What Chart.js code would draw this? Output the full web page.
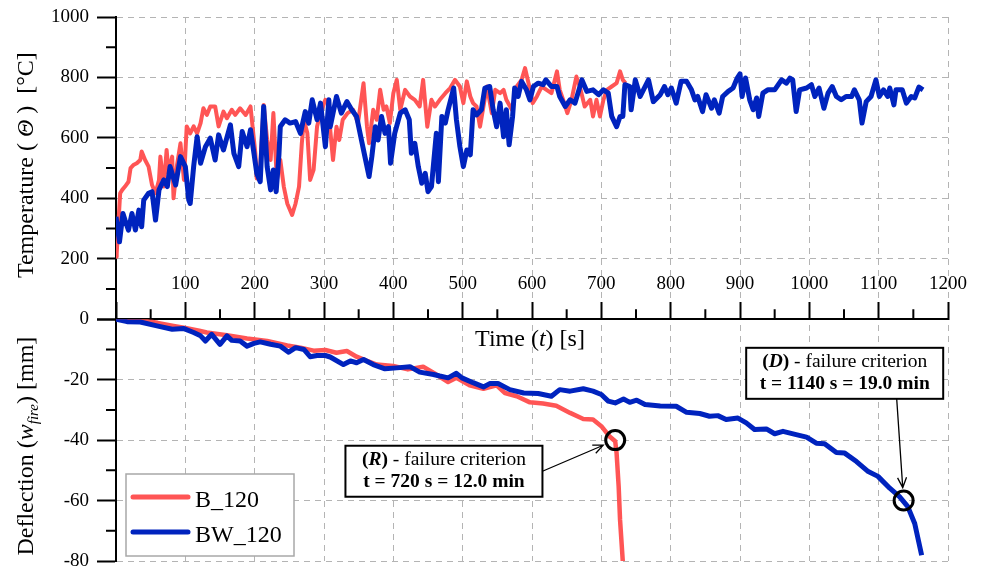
<!DOCTYPE html>
<html>
<head>
<meta charset="utf-8">
<script src="https://cdn.jsdelivr.net/npm/chart.js@4.4.1/dist/chart.umd.min.js"></script>
<style>
  body { margin: 0; background: #fff; }
  canvas { display: block; }
</style>
</head>
<body>
<canvas id="chart" width="983" height="567"></canvas>
<script>
// [time s, temperature °C]
const B120_temp = [[0,207],[1,218],[6,417],[9,428],[13,439],[18,455],[21,500],[25,510],[30,516],[35,527],[37,555],[42,527],[47,505],[52,444],[57,417],[62,461],[64,538],[69,439],[73,560],[76,483],[81,538],[83,400],[88,510],[93,582],[98,461],[102,638],[107,615],[112,638],[117,615],[122,649],[126,698],[131,676],[136,704],[143,704],[148,638],[155,687],[160,665],[167,693],[172,676],[179,698],[187,676],[194,704],[198,615],[201,549],[203,466],[208,505],[213,709],[218,593],[223,527],[227,682],[232,461],[237,527],[242,439],[247,383],[254,345],[259,383],[264,439],[268,582],[271,660],[276,615],[280,461],[285,494],[290,638],[295,682],[302,726],[307,715],
  [309,626],[313,527],[318,637],[322,593],[327,660],[334,682],[342,693],[349,649],[357,781],[362,637],[365,582],[371,693],[376,660],[381,759],[386,693],[390,704],[395,649],[400,748],[405,792],[410,693],[417,759],[424,737],[431,726],[438,704],[443,792],[449,637],[455,726],[460,704],[467,726],[475,748],[482,765],[489,792],[496,770],[501,715],[506,787],[511,737],[515,715],[520,704],[525,637],[530,704],[535,770],[542,682],[547,759],[554,748],[559,759],[563,726],[571,693],[578,770],[585,792],[590,831],[595,781],[601,715],[607,737],[614,770],[621,759],[628,748],[636,820],[640,759],[645,726],[651,682],[657,726],[664,803],[669,770],[676,704],[684,726],[688,671],[693,726],[698,671],[703,726],[708,759],[715,770],[722,781],[727,820],[731,792],[735,781]];

const BW120_temp = [[0,339],[5,256],[10,350],[13,328],[18,295],[23,350],[28,295],[33,361],[37,306],[40,394],[47,417],[52,422],[57,328],[62,428],[69,461],[74,439],[78,505],[86,444],[93,538],[100,505],[105,394],[107,383],[112,505],[117,604],[122,516],[129,571],[136,599],[143,527],[148,610],[155,560],[165,643],[170,549],[177,505],[182,621],[189,571],[194,627],[199,549],[203,483],[208,455],[213,704],[218,505],[223,428],[227,494],[231,422],[235,544],[237,638],[244,660],[251,649],[259,654],[266,615],[273,687],[278,649],[283,726],[290,660],[295,715],[302,571],[307,726],
  [309,637],[318,737],[325,682],[333,720],[340,693],[347,671],[354,593],[359,538],[365,472],[369,538],[374,637],[378,593],[383,671],[388,615],[393,637],[396,516],[402,615],[410,682],[417,693],[423,660],[426,549],[431,582],[436,505],[441,450],[446,483],[450,422],[455,439],[462,615],[465,455],[470,671],[475,649],[479,693],[487,765],[491,660],[496,571],[501,505],[506,560],[511,544],[515,693],[520,676],[527,693],[532,765],[539,770],[544,693],[549,637],[554,715],[559,604],[563,693],[567,577],[572,671],[575,765],[580,737],[585,787],[592,759],[597,726],[602,770],[609,781],[616,776],[620,792],[628,770],[636,770],[640,737],[648,704],[655,726],[662,715],[672,792],[679,754],[688,759],[696,743],[703,759],[710,748],[715,671],[722,637],[727,671],[731,671],[734,776],[741,770],[743,693],[749,792],[756,737],[768,792],[775,720],[785,743],
  [791,770],[796,743],[801,765],[808,715],[815,787],[823,787],[830,759],[835,726],[839,737],[846,687],[851,743],[859,698],[863,726],[870,682],[875,737],[883,754],[890,765],[896,798],[900,812],[903,737],[908,798],[914,726],[919,693],[924,732],[927,671],[933,748],[940,759],[950,759],[960,792],[967,781],[972,798],[976,792],[981,687],[986,759],[996,765],[1003,776],[1008,737],[1014,765],[1021,698],[1027,748],[1033,770],[1039,737],[1046,726],[1053,737],[1061,737],[1065,759],[1072,726],[1076,649],[1082,720],[1089,737],[1096,792],[1101,737],[1107,759],[1113,737],[1116,765],[1122,709],[1125,759],[1134,759],[1140,715],[1147,737],[1152,732],[1158,768],[1164,759]];

// [time s, deflection mm]
const B120_defl = [[0,0],[20,-0.2],[40,-0.5],[60,-1.2],[83,-2.2],[102,-3.0],[120,-3.8],[131,-4.4],[160,-5.3],[189,-6.4],[218,-7.2],[247,-8.7],[266,-9.4],[285,-10.4],[302,-10.2],[318,-11.1],[333,-10.5],[347,-12.4],[362,-13.8],[376,-15.0],[400,-15.5],[421,-16.6],[443,-15.7],[462,-18.3],[479,-20.8],[491,-19.4],[510,-21.9],[530,-23.0],[549,-21.9],[561,-24.4],[578,-25.5],[597,-27.5],[616,-27.9],[635,-28.6],[655,-31.0],[674,-33.0],[688,-33.2],[700,-35.4],[712,-38.8],[720,-40.4],[722,-44.3],[725,-55.4],[727,-66.4],[731,-80.3]];

const BW120_defl = [[0,0],[16,-0.8],[35,-0.9],[59,-2.2],[81,-3.3],[98,-3.1],[112,-4.4],[122,-5.5],[129,-7.2],[138,-5.0],[150,-8.3],[160,-5.5],[167,-7.0],[179,-7.2],[189,-8.9],[199,-8.0],[208,-7.5],[223,-8.3],[237,-8.9],[249,-10.9],[259,-9.4],[271,-10.0],[280,-12.4],[290,-12.0],[302,-12.0],[309,-12.5],[328,-15.0],[338,-13.8],[347,-14.4],[357,-13.3],[371,-15.0],[388,-16.4],[405,-16.1],[424,-15.7],[438,-17.5],[458,-18.3],[467,-18.8],[479,-19.4],[491,-17.9],[499,-19.4],[515,-21.0],[530,-22.4],[539,-21.3],[551,-21.3],[568,-23.3],[588,-24.4],[609,-24.6],[628,-25.5],[640,-23.3],[655,-23.8],[674,-23.0],[688,-23.8],[700,-24.9],[710,-27.1],[720,-27.7],[732,-26.4],[741,-27.5],[751,-26.8],[763,-28.2],[785,-28.7],[808,-28.8],[823,-30.8],[842,-31.2],[856,-32.1],[868,-31.9],[880,-33.2],[897,-32.7],[909,-34.3],[921,-36.5],[938,-36.3],[950,-37.9],[962,-37.1],[981,-38.2],[996,-39.0],[1010,-41.0],[1022,-41.2],[1039,-44.1],[1051,-44.3],[1068,-47.1],[1085,-50.4],[1099,-52.0],[1116,-55.9],[1130,-58.7],[1142,-62.0],[1152,-67.6],[1162,-78.1]];

// failure criteria points and their callouts
const failures = [[720, -40], [1136, -60]];
const failureLetters = ['R', 'D'];
const failureTimes = ['t = 720 s = 12.0 min', 't = 1140 s = 19.0 min'];
const calloutAt = [[473, -50.3], [1051, -17.9]];   // box centre (time, deflection)

const seriesNames = ['B_120', 'BW_120'];
const RED = 'rgb(255,85,85)';
const BLUE = 'rgb(0,35,190)';
const SERIF = '"Liberation Serif", "Times New Roman", serif';
const GRID = '#b4b4b4';

const pts = a => a.map(([x, y]) => ({x, y}));
const font = (size, style) => (style || '') + ' ' + size + 'px ' + SERIF;

function richText(ctx, parts, cx, y) {
  let w = 0;
  parts.forEach(p => { ctx.font = p[1]; p.w = ctx.measureText(p[0]).width; w += p.w; });
  let x = cx - w / 2;
  parts.forEach(p => { ctx.font = p[1]; ctx.fillText(p[0], x, y + (p[2] || 0)); x += p.w; });
}

function arrow(ctx, x1, y1, x2, y2) {
  const ang = Math.atan2(y2 - y1, x2 - x1), h = 11, s = 0.42;
  ctx.beginPath();
  ctx.moveTo(x1, y1); ctx.lineTo(x2, y2);
  ctx.moveTo(x2 - h * Math.cos(ang - s), y2 - h * Math.sin(ang - s));
  ctx.lineTo(x2, y2);
  ctx.lineTo(x2 - h * Math.cos(ang + s), y2 - h * Math.sin(ang + s));
  ctx.stroke();
}

const decor = {
  id: 'decor',
  afterDraw(chart) {
    const {ctx, chartArea: a, scales} = chart;
    const x = scales.x, yT = scales.yT, yD = scales.yD;
    const y0 = yT.getPixelForValue(0);
    ctx.save();

    // minor ticks
    ctx.strokeStyle = '#000'; ctx.lineWidth = 2;
    ctx.beginPath();
    for (let v = 100; v < 1000; v += 200) { const p = yT.getPixelForValue(v); ctx.moveTo(a.left - 10, p); ctx.lineTo(a.left, p); }
    for (let v = -10; v > -80; v -= 20) { const p = yD.getPixelForValue(v); ctx.moveTo(a.left - 10, p); ctx.lineTo(a.left, p); }
    for (let v = 50; v < 1200; v += 100) { const p = x.getPixelForValue(v); ctx.moveTo(p, y0); ctx.lineTo(p, y0 - 10); }
    ctx.stroke();

    // axis titles
    ctx.fillStyle = '#000';
    ctx.textBaseline = 'alphabetic';
    ctx.save();
    ctx.translate(33, (yT.top + yT.bottom) / 2 - 3);
    ctx.rotate(-Math.PI / 2);
    richText(ctx, [['Temperature ( ', font(24)], ['\u0398', font(24, 'italic')], [' )  [\u00B0C]', font(24)]], 0, 0);
    ctx.restore();
    ctx.save();
    ctx.translate(33, (yD.top + yD.bottom) / 2 + 6);
    ctx.rotate(-Math.PI / 2);
    richText(ctx, [['Deflection (', font(24)], ['w', font(24, 'italic')], ['fire', font(15, 'italic'), 5], [') [mm]', font(24)]], 0, 0);
    ctx.restore();
    richText(ctx, [['Time (', font(24)], ['t', font(24, 'italic')], [') [s]', font(24)]], (a.left + a.right) / 2 - 2, y0 + 27);

    // legend
    const lx = a.left + 10, ly = a.bottom - 87;
    ctx.fillStyle = '#fff'; ctx.strokeStyle = '#a8a8a8'; ctx.lineWidth = 1.5;
    ctx.fillRect(lx, ly, 168, 82); ctx.strokeRect(lx, ly, 168, 82);
    [RED, BLUE].forEach((c, i) => {
      const yy = ly + 23 + i * 35;
      ctx.strokeStyle = c; ctx.lineWidth = 5; ctx.lineCap = 'round';
      ctx.beginPath(); ctx.moveTo(lx + 7, yy); ctx.lineTo(lx + 62, yy); ctx.stroke();
      ctx.fillStyle = '#000'; ctx.font = font(24); ctx.textAlign = 'left';
      ctx.fillText(seriesNames[i], lx + 69, yy + 10);
    });
    ctx.lineCap = 'butt';

    // failure callouts
    failures.forEach((f, i) => {
      const cx = x.getPixelForValue(calloutAt[i][0]), cy = yD.getPixelForValue(calloutAt[i][1]);
      const w = 197, h = 51, bx = cx - w / 2, by = cy - h / 2;
      const px = x.getPixelForValue(f[0]), py = yD.getPixelForValue(f[1]);
      let sx, sy;
      if (i === 0) { sx = bx + w; sy = cy; } else { sx = cx + 52; sy = by + h; }
      const d = Math.hypot(px - sx, py - sy), g = 13;
      ctx.strokeStyle = '#000'; ctx.lineWidth = 1.3;
      arrow(ctx, sx, sy, px - (px - sx) * g / d, py - (py - sy) * g / d);
      ctx.fillStyle = '#fff'; ctx.fillRect(bx, by, w, h);
      ctx.lineWidth = 2; ctx.strokeRect(bx, by, w, h);
      ctx.fillStyle = '#000';
      richText(ctx, [['(', font(19.5, 'bold')], [failureLetters[i], font(19.5, 'italic bold')], [')', font(19.5, 'bold')], [' - failure criterion', font(19.5)]], cx, by + 19);
      richText(ctx, [[failureTimes[i], font(19.5, 'bold')]], cx, by + 41);
    });
    ctx.restore();
  }
};

const yFit = s => { s.width = 116; s.paddingTop = 0; s.paddingBottom = 0; };
const tickFont = {family: SERIF, size: 19};

new Chart(document.getElementById('chart'), {
  type: 'line',
  data: {
    datasets: [
      { label: 'failure', data: pts(failures), yAxisID: 'yD', showLine: false, clip: false,
        pointRadius: 9.5, pointHoverRadius: 9.5, pointBorderWidth: 3, pointBorderColor: '#000', pointBackgroundColor: 'rgba(0,0,0,0)' },
      { label: seriesNames[1], data: pts(BW120_temp), yAxisID: 'yT', borderColor: BLUE, borderWidth: 5, pointRadius: 0, borderJoinStyle: 'round' },
      { label: seriesNames[1], data: pts(BW120_defl), yAxisID: 'yD', borderColor: BLUE, borderWidth: 5, pointRadius: 0, borderJoinStyle: 'round' },
      { label: seriesNames[0], data: pts(B120_temp), yAxisID: 'yT', borderColor: RED, borderWidth: 4, pointRadius: 0, borderJoinStyle: 'round' },
      { label: seriesNames[0], data: pts(B120_defl), yAxisID: 'yD', borderColor: RED, borderWidth: 4.5, pointRadius: 0, borderJoinStyle: 'round' }
    ]
  },
  options: {
    responsive: false,
    animation: false,
    devicePixelRatio: 1,
    layout: { autoPadding: false, padding: { left: 0, top: 17, right: 35, bottom: 6 } },
    plugins: { legend: { display: false }, tooltip: { enabled: false } },
    scales: {
      x: {
        type: 'linear', position: 'bottom', min: 0, max: 1200,
        ticks: { display: false, stepSize: 100 },
        grid: { color: GRID, lineWidth: 1, drawTicks: false },
        border: { display: false, dash: [6, 5] },
        afterFit: s => { s.height = 0; s.paddingLeft = 0; s.paddingRight = 0; }
      },
      x2: {
        type: 'linear', position: { yT: 0 }, min: 0, max: 1200,
        ticks: { stepSize: 100, autoSkip: false, maxRotation: 0, padding: -29, color: '#000', font: tickFont,
                 callback: v => v === 0 ? '' : v },
        grid: { display: true, drawOnChartArea: false, drawTicks: true, tickLength: -18, tickColor: '#000', tickWidth: 2 },
        border: { display: true, color: '#000', width: 2 },
        afterFit: s => { s.paddingLeft = 0; s.paddingRight = 0; }
      },
      yD: {
        type: 'linear', position: 'left', stack: 'left', stackWeight: 4, min: -80, max: 0,
        ticks: { stepSize: 20, padding: 8, color: '#000', font: tickFont },
        grid: { color: GRID, lineWidth: 1, tickLength: 19, tickColor: '#000', tickWidth: 2, tickBorderDash: [] },
        border: { display: true, color: '#000', width: 2, dash: [6, 5] },
        afterFit: yFit
      },
      yT: {
        type: 'linear', position: 'left', stack: 'left', stackWeight: 5, min: 0, max: 1000,
        ticks: { stepSize: 200, padding: 8, color: '#000', font: tickFont, callback: v => v === 0 ? '' : v },
        grid: { color: GRID, lineWidth: 1, tickLength: 19, tickColor: '#000', tickWidth: 2, tickBorderDash: [] },
        border: { display: true, color: '#000', width: 2, dash: [6, 5] },
        afterFit: yFit
      }
    }
  },
  plugins: [decor]
});
</script>
</body>
</html>
